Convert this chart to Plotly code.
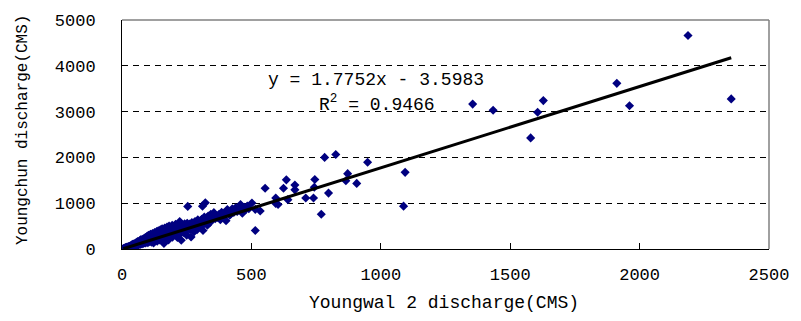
import plotly.graph_objects as go

# --- data (Youngwal 2 vs Youngchun discharge, CMS) ---
A_x = [5, 8, 10, 12, 14, 15, 17, 18, 20, 20, 22, 24, 25, 26, 28, 29, 30, 32, 33, 35, 35, 37, 38, 40, 40, 42, 44, 45, 46, 48, 50, 50]
A_y = [8, 12, 20, 15, 25, 30, 22, 35, 28, 45, 38, 30, 50, 42, 60, 35, 55, 48, 70, 40, 62, 80, 55, 72, 100, 60, 85, 110, 70, 95, 65, 120]

B_x = [52, 54, 55, 57, 58, 60, 60, 62, 64, 65, 67, 68, 70, 70, 72, 74, 75, 77, 78, 80, 80, 82, 84, 85, 86, 88, 90, 90, 92, 94, 95, 96, 98, 100, 100]
B_y = [88, 105, 140, 80, 118, 100, 160, 130, 90, 150, 115, 180, 100, 135, 200, 125, 160, 110, 210, 145, 185, 120, 170, 230, 140, 195, 130, 250, 175, 215, 150, 270, 190, 140, 230]

C_x = [102, 104, 105, 106, 108, 110, 110, 112, 114, 115, 116, 118, 120, 120, 122, 124, 125, 126, 128, 130, 130, 132, 134, 135, 136, 138, 140, 140, 142, 144, 145, 146, 148, 150, 150]
C_y = [300, 170, 210, 260, 160, 240, 320, 190, 280, 150, 225, 340, 200, 265, 130, 300, 240, 360, 180, 280, 320, 220, 380, 260, 170, 310, 240, 400, 290, 200, 340, 270, 420, 230, 310]

D_x = [152, 154, 155, 157, 158, 160, 160, 162, 164, 165, 166, 168, 170, 170, 172, 174, 175, 176, 178, 180, 180, 182, 184, 185, 186, 188, 190, 190, 192, 194, 195, 196, 198, 200, 200]
D_y = [360, 260, 440, 300, 200, 340, 390, 120, 280, 460, 320, 240, 370, 420, 300, 480, 260, 350, 400, 200, 320, 500, 370, 280, 430, 340, 470, 300, 390, 520, 260, 420, 350, 440, 310]

E_x = [203, 205, 207, 210, 212, 214, 216, 218, 220, 223, 224, 226, 229, 230, 232, 235, 237, 240, 242, 245, 247, 250, 252, 254, 255, 258, 261, 263]
E_y = [480, 380, 540, 330, 420, 250, 500, 370, 450, 600, 400, 340, 190, 480, 420, 520, 360, 460, 550, 400, 500, 300, 560, 930, 440, 520, 547, 420]

F_x = [267, 268, 270, 273, 276, 279, 282, 285, 288, 290, 293, 296, 300, 301, 305, 308, 311, 313, 315, 318, 320, 322, 325, 328, 330, 333, 336, 340, 343, 346, 351, 355]
F_y = [262, 500, 580, 460, 540, 380, 600, 500, 560, 420, 640, 520, 580, 547, 480, 650, 936, 404, 560, 700, 617, 1010, 600, 680, 520, 720, 640, 580, 760, 680, 760, 794]

G_x = [360, 365, 370, 375, 380, 385, 390, 396, 402, 407, 412, 416, 420, 426, 432, 439, 445, 452, 458, 465, 472, 478, 484, 490]
G_y = [660, 720, 687, 760, 640, 800, 720, 780, 617, 860, 830, 740, 760, 880, 800, 900, 820, 870, 972, 780, 910, 860, 936, 880]

mid_x = [502, 515, 515, 534, 553, 594, 594, 603, 624, 635, 641, 668, 668, 710, 740, 743, 745, 770, 783, 798, 826, 865, 872, 907, 949]
mid_y = [1006, 866, 404, 830, 1326, 1113, 993, 972, 1326, 1510, 1078, 1397, 1291, 1113, 1113, 1347, 1517, 760, 2000, 1220, 2064, 1489, 1645, 1432, 1894]

high_x = [1094, 1088, 1355, 1434, 1579, 1606, 1628, 1912, 1961, 2187, 2354]
high_y = [1674, 936, 3164, 3028, 2426, 2985, 3240, 3617, 3128, 4660, 3277]

slope = 1.7752
intercept = -3.5983
r_squared = 0.9466

x_title = "Youngwal 2 discharge(CMS)"
y_title = "Youngchun discharge(CMS)"
x_ticks = [0, 500, 1000, 1500, 2000, 2500]
y_ticks = [0, 1000, 2000, 3000, 4000, 5000]

xs = A_x + B_x + C_x + D_x + E_x + F_x + G_x + mid_x + high_x
ys = A_y + B_y + C_y + D_y + E_y + F_y + G_y + mid_y + high_y

FONT = "Liberation Mono"
NAVY = "#000080"

fig = go.Figure()
fig.add_trace(go.Scatter(
    x=xs, y=ys, mode="markers",
    marker=dict(symbol="diamond", size=7, color=NAVY, line=dict(width=0)),
    showlegend=False, hoverinfo="skip",
))
tx = [min(xs), max(xs)]
ty = [slope * v + intercept for v in tx]
fig.add_trace(go.Scatter(
    x=tx, y=ty, mode="lines", line=dict(color="black", width=3),
    showlegend=False, hoverinfo="skip",
))

fig.update_layout(
    width=801, height=321,
    margin=dict(l=122, r=17, t=14, b=72),
    paper_bgcolor="white", plot_bgcolor="white",
    font=dict(family=FONT, color="black", size=17),
    xaxis=dict(
        range=[0, 2500], tickvals=x_ticks, ticktext=[str(v) for v in x_ticks],
        ticks="inside", ticklen=6, tickcolor="black", tickwidth=1,
        showline=True, linecolor="black", linewidth=1,
        showgrid=False, zeroline=False, ticklabelstandoff=10,
        ticklabeloverflow="allow",
        tickfont=dict(family=FONT, size=17),
    ),
    yaxis=dict(
        range=[0, 5000], tickvals=y_ticks, ticktext=[str(v) for v in y_ticks],
        ticks="inside", ticklen=6, tickcolor="black", tickwidth=1,
        showline=True, linecolor="black", linewidth=1,
        showgrid=True, gridcolor="black", gridwidth=1, griddash="6px,5px",
        zeroline=False, ticklabelstandoff=22,
        ticklabeloverflow="allow",
        tickfont=dict(family=FONT, size=17),
    ),
    shapes=[
        dict(type="line", xref="paper", yref="paper", x0=0, x1=1, y0=1, y1=1,
             line=dict(color="#808080", width=1.5), layer="above"),
        dict(type="line", xref="paper", yref="paper", x0=1, x1=1, y0=0, y1=1,
             line=dict(color="#808080", width=1.5), layer="above"),
    ],
    annotations=[
        dict(text=x_title, xref="paper", yref="paper", x=0.497, y=-0.234,
             xanchor="center", yanchor="middle", showarrow=False,
             font=dict(family=FONT, size=18)),
        dict(text=y_title, xref="paper", yref="paper", x=-0.154, y=0.521,
             xanchor="center", yanchor="middle", showarrow=False, textangle=-90,
             font=dict(family=FONT, size=16)),
        dict(text=f"y = {slope}x - {abs(intercept)}", xref="paper", yref="paper",
             x=0.393, y=0.740, xanchor="center", yanchor="middle", showarrow=False,
             font=dict(family=FONT, size=18)),
        dict(text=f"R<sup>2</sup> = {r_squared}", xref="paper", yref="paper",
             x=0.394, y=0.634, xanchor="center", yanchor="middle", showarrow=False,
             font=dict(family=FONT, size=18)),
    ],
)

fig.write_html("out.html")
